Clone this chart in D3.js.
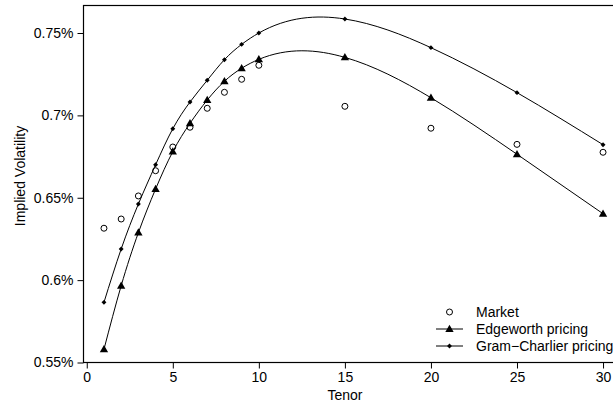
<!DOCTYPE html>
<html><head><meta charset="utf-8">
<script src="https://cdn.jsdelivr.net/npm/d3@7"></script>
<style>body{margin:0;background:#fff}svg{display:block}text{font-family:"Liberation Sans",Arial,sans-serif;fill:#000}</style>
</head><body><svg id="c" width="613" height="407"></svg>
<script>
const tenors = [1,2,3,4,5,6,7,8,9,10,15,20,25,30];
const market = [0.6315,0.6371,0.6511,0.6664,0.6808,0.6928,0.7043,0.7140,0.7219,0.7304,0.7055,0.6922,0.6824,0.6776];
const edgeworth = [0.5580,0.5966,0.6288,0.6553,0.6780,0.6952,0.7093,0.7207,0.7286,0.7340,0.7352,0.7107,0.6764,0.6403];
const gramCharlier = [0.5865,0.6189,0.6462,0.6700,0.6919,0.7081,0.7213,0.7338,0.7431,0.7500,0.7585,0.7411,0.7138,0.6822];
const xTicks = [0,5,10,15,20,25,30];
const yTicks = [0.55,0.60,0.65,0.70,0.75];
const yTickLabels = ["0.55%","0.6%","0.65%","0.7%","0.75%"];
const legendLabels = ["Market","Edgeworth pricing","Gram\u2212Charlier pricing"];

// custom d3 curve: natural cubic spline with y as a function of x
function CurveSplineX(context){ this._context = context; }
CurveSplineX.prototype = {
  areaStart(){}, areaEnd(){},
  lineStart(){ this._x=[]; this._y=[]; },
  point(x,y){ this._x.push(+x); this._y.push(+y); },
  lineEnd(){
    const X=this._x, Y=this._y, n=X.length, c=this._context;
    if(!n) return;
    c.moveTo(X[0],Y[0]);
    if(n<3){ for(let i=1;i<n;i++) c.lineTo(X[i],Y[i]); return; }
    const h=[]; for(let i=0;i<n-1;i++) h.push(X[i+1]-X[i]);
    const a=new Array(n).fill(0), b=new Array(n).fill(1), cc=new Array(n).fill(0), r=new Array(n).fill(0);
    for(let i=1;i<n-1;i++){
      a[i]=h[i-1]; b[i]=2*(h[i-1]+h[i]); cc[i]=h[i];
      r[i]=6*((Y[i+1]-Y[i])/h[i]-(Y[i]-Y[i-1])/h[i-1]);
    }
    for(let i=1;i<n;i++){ const m=a[i]/b[i-1]; b[i]-=m*cc[i-1]; r[i]-=m*r[i-1]; }
    const M=new Array(n).fill(0);
    M[n-1]=r[n-1]/b[n-1];
    for(let i=n-2;i>=0;i--) M[i]=(r[i]-cc[i]*M[i+1])/b[i];
    for(let i=0;i<n-1;i++){
      const s=(Y[i+1]-Y[i])/h[i];
      const m0=s-h[i]*(2*M[i]+M[i+1])/6, m1=s+h[i]*(M[i]+2*M[i+1])/6;
      c.bezierCurveTo(X[i]+h[i]/3, Y[i]+m0*h[i]/3, X[i+1]-h[i]/3, Y[i+1]-m1*h[i]/3, X[i+1], Y[i+1]);
    }
  }
};
const curveSplineX = ctx => new CurveSplineX(ctx);

const svg = d3.select("#c");
const x = d3.scaleLinear().domain([-0.16, 31.16]).range([84, 623]);
const y = d3.scaleLinear().domain([0.55, 0.75]).range([362.5, 33]);
const yTop = y.invert(5.5);

svg.append("rect").attr("x", x.range()[0]-0.5).attr("y", y(yTop)).attr("width", x.range()[1]-x.range()[0]).attr("height", y(0.55)-y(yTop))
  .attr("fill","none").attr("stroke","#000").attr("stroke-width",1.2);

const gx = svg.append("g").attr("transform","translate(0,362.5)")
  .call(d3.axisBottom(x).tickValues(xTicks).tickSize(6).tickPadding(4).tickFormat(d3.format("d")));
const gy = svg.append("g").attr("transform","translate(83.5,0)")
  .call(d3.axisLeft(y).tickValues(yTicks).tickSize(6).tickPadding(4).tickFormat((d,i)=>yTickLabels[i]));
[gx,gy].forEach(g=>{
  g.select(".domain").remove();
  g.selectAll("line").attr("stroke","#000");
  g.selectAll("text").style("font-size","14px").style("font-family","'Liberation Sans',Arial,sans-serif").attr("fill","#000");
});
svg.append("line").attr("x1",83.5).attr("x2",83.5).attr("y1",y(0.55)).attr("y2",y(0.75)).attr("stroke","#000");
svg.append("line").attr("y1",362.5).attr("y2",362.5).attr("x1",x(0)).attr("x2",x(30)).attr("stroke","#000");

svg.append("text").attr("x", x(15)).attr("y", 400).attr("text-anchor","middle").style("font-size","14px").text("Tenor");
svg.append("text").attr("transform",`translate(25,176) rotate(-90)`).attr("text-anchor","middle").style("font-size","14px").text("Implied Volatility");

const line = d3.line().x((d,i)=>x(tenors[i])).y(d=>y(d)).curve(curveSplineX);
[edgeworth, gramCharlier].forEach(s=>{
  svg.append("path").attr("d", line(s)).attr("fill","none").attr("stroke","#000").attr("stroke-width",1);
});

const tri = d3.symbol().type(d3.symbolTriangle).size(30);
const dia = d3.symbol().type(d3.symbolSquare).size(12);
function circ(g, cx, cy){ g.append("circle").attr("cx",cx).attr("cy",cy).attr("r",3).attr("fill","none").attr("stroke","#000").attr("stroke-width",1); }
function triM(g, cx, cy){ g.append("path").attr("d",tri()).attr("transform",`translate(${cx},${cy+0.5})`).attr("fill","#000"); }
function diaM(g, cx, cy){ g.append("path").attr("d",dia()).attr("transform",`translate(${cx},${cy}) rotate(45)`).attr("fill","#000"); }

const pts = svg.append("g");
market.forEach((v,i)=>circ(pts, x(tenors[i]), y(v)));
edgeworth.forEach((v,i)=>triM(pts, x(tenors[i]), y(v)));
gramCharlier.forEach((v,i)=>diaM(pts, x(tenors[i]), y(v)));

const lg = svg.append("g");
const rowsY = [312, 329, 346];
const markers = [circ, triM, diaM];
legendLabels.forEach((t,i)=>{
  if(i>0) lg.append("line").attr("x1",436).attr("x2",463).attr("y1",rowsY[i]).attr("y2",rowsY[i]).attr("stroke","#000");
  markers[i](lg, 449.5, rowsY[i]);
  lg.append("text").attr("x",476).attr("y",rowsY[i]).attr("dy","0.35em").style("font-size","14px").text(t);
});
</script></body></html>
